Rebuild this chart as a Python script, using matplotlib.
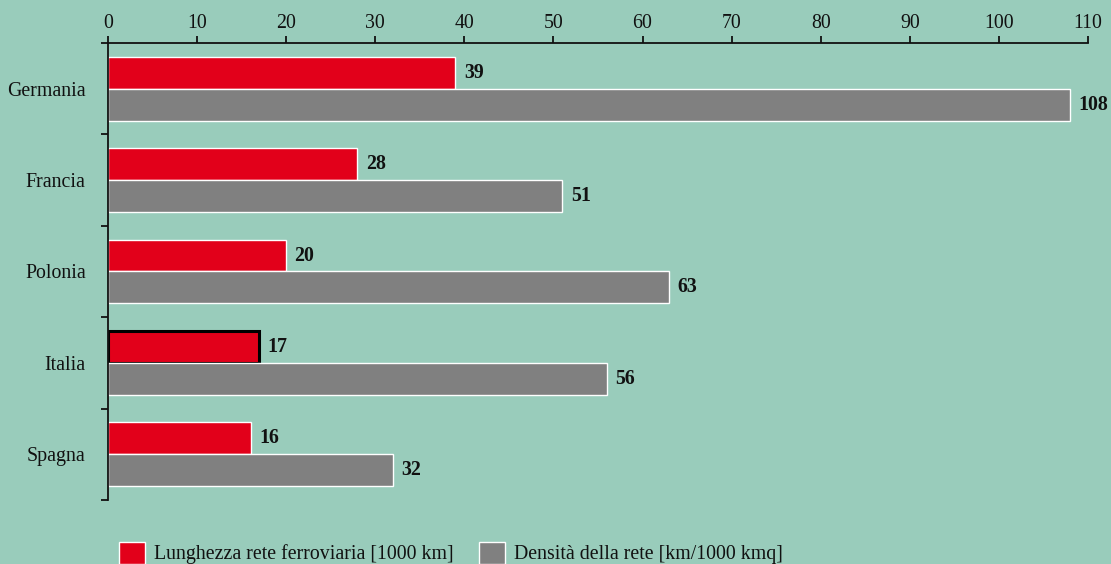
import matplotlib
matplotlib.use("Agg")
import matplotlib.pyplot as plt
from matplotlib.patches import Patch
import numpy as np

countries = ["Germania", "Francia", "Polonia", "Italia", "Spagna"]
lunghezza = [39, 28, 20, 17, 16]
densita = [108, 51, 63, 56, 32]
xticks = [0, 10, 20, 30, 40, 50, 60, 70, 80, 90, 100, 110]

BG = "#99CCBB"
RED = "#E2001A"
GREY = "#808080"
INK = "#111111"
FS = 14.3

plt.rcParams["font.family"] = ["Liberation Serif", "DejaVu Serif"]

fig = plt.figure(figsize=(11.11, 5.64), dpi=100, facecolor=BG)
ax = fig.add_axes([108 / 1111, 1 - 500 / 564, (1088 - 108) / 1111, (500 - 43) / 564])
ax.set_facecolor(BG)

y = np.arange(len(countries))
h = 0.35
red_bars = ax.barh(y - h / 2, lunghezza, height=h, color=RED, edgecolor="white", linewidth=1)
grey_bars = ax.barh(y + h / 2, densita, height=h, color=GREY, edgecolor="white", linewidth=1)

# highlight Italy
idx = countries.index("Italia")
red_bars[idx].set_edgecolor("black")
red_bars[idx].set_linewidth(2.2)

for bars, vals in ((red_bars, lunghezza), (grey_bars, densita)):
    for b, v in zip(bars, vals):
        ax.annotate(f"{v}", (b.get_width(), b.get_y() + b.get_height() / 2),
                    xytext=(6, 0), textcoords="offset points",
                    ha="left", va="center", fontsize=FS, fontweight="bold",
                    color=INK)

ax.set_xlim(0, 110)
ax.set_ylim(len(countries) - 0.5, -0.5)
ax.xaxis.tick_top()
ax.set_xticks(xticks)
ax.set_xticklabels([str(t) for t in xticks], fontsize=FS, color=INK)
ax.tick_params(axis="x", direction="out", length=5, width=1.3, pad=2, color=INK)

ax.set_yticks(y)
ax.set_yticklabels(countries, fontsize=FS, color=INK)
ax.tick_params(axis="y", which="major", length=0, pad=16)
ax.set_yticks(np.arange(-0.5, len(countries)), minor=True)
ax.tick_params(axis="y", which="minor", direction="out", length=5, width=1.3, color=INK)

for s in ("right", "bottom"):
    ax.spines[s].set_visible(False)
for s in ("top", "left"):
    ax.spines[s].set_linewidth(1.3)
    ax.spines[s].set_color(INK)

handles = [Patch(facecolor=RED, edgecolor="white", linewidth=1),
           Patch(facecolor=GREY, edgecolor="white", linewidth=1)]
labels = ["Lunghezza rete ferroviaria [1000 km]", "Densità della rete [km/1000 kmq]"]
fig.legend(handles, labels, loc="upper left", bbox_to_anchor=(115 / 1111, 1 - 538 / 564),
           ncol=2, frameon=False, fontsize=FS, handlelength=1.3, handleheight=1.3,
           handletextpad=0.45, columnspacing=1.3, borderaxespad=0, borderpad=0.2,
           labelcolor=INK)

fig.savefig("out.png", dpi=100, facecolor=BG)
